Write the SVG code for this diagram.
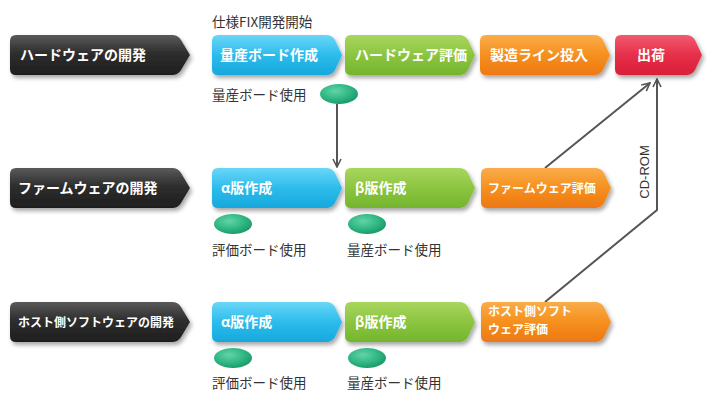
<svg xmlns="http://www.w3.org/2000/svg" xmlns:xlink="http://www.w3.org/1999/xlink" width="707" height="414" viewBox="0 0 707 414">
<style>
.nt{font-family:"Noto Sans CJK JP","Noto Sans",sans-serif;font-weight:bold;fill:#fff;font-size:14px}
.sm{font-size:12px}
.lb{font-family:"Noto Sans CJK JP","Noto Sans",sans-serif;fill:#333;font-size:13.5px}
.cn{fill:none;stroke:#555;stroke-width:2}
</style>
<defs>
<linearGradient id="gDark" x1="0" y1="0" x2="0" y2="1"><stop offset="0" stop-color="#5a5a5a"/><stop offset="0.45" stop-color="#2e2e2e"/><stop offset="1" stop-color="#1e1e1e"/></linearGradient>
<linearGradient id="gBlue" x1="0" y1="0" x2="0" y2="1"><stop offset="0" stop-color="#6ad6f7"/><stop offset="0.5" stop-color="#2cbcec"/><stop offset="1" stop-color="#17a8dc"/></linearGradient>
<linearGradient id="gGreen" x1="0" y1="0" x2="0" y2="1"><stop offset="0" stop-color="#a8d65e"/><stop offset="0.5" stop-color="#8cc540"/><stop offset="1" stop-color="#74b52e"/></linearGradient>
<linearGradient id="gOrange" x1="0" y1="0" x2="0" y2="1"><stop offset="0" stop-color="#fbac4a"/><stop offset="0.5" stop-color="#f5901f"/><stop offset="1" stop-color="#ee7812"/></linearGradient>
<linearGradient id="gRed" x1="0" y1="0" x2="0" y2="1"><stop offset="0" stop-color="#f25a70"/><stop offset="0.5" stop-color="#e6304a"/><stop offset="1" stop-color="#d81f38"/></linearGradient>
<radialGradient id="gEll" cx="0.4" cy="0.35" r="0.7"><stop offset="0" stop-color="#62d4a8"/><stop offset="0.6" stop-color="#2db580"/><stop offset="1" stop-color="#1a9468"/></radialGradient>
<filter id="sh" x="-10%" y="-20%" width="130%" height="160%"><feDropShadow dx="2" dy="3" stdDeviation="2" flood-color="#000" flood-opacity="0.35"/></filter>
<path id="s180" d="M6,0 H162 Q168,0 171,5 L180,20 L171,35 Q168,40 162,40 H6 Q0,40 0,34 V6 Q0,0 6,0 Z"/>
<path id="s130" d="M6,0 H114 Q120,0 123,5 L130,20 L123,35 Q120,40 114,40 H6 Q0,40 0,34 V6 Q0,0 6,0 Z"/>
<path id="s87" d="M6,0 H71 Q77,0 80,5 L87,20 L80,35 Q77,40 71,40 H6 Q0,40 0,34 V6 Q0,0 6,0 Z"/>
<ellipse id="ell" cx="0" cy="0" rx="19" ry="10"/>
<marker id="ah" viewBox="0 0 10 10" refX="9" refY="5" markerWidth="5" markerHeight="5" orient="auto" markerUnits="strokeWidth"><path d="M1,1 L9,5 L1,9" fill="none" stroke="#555" stroke-width="1.6"/></marker>
</defs>
<rect width="707" height="414" fill="#fff"/>

<g id="connectors">
<path class="cn" d="M337,104 V167" marker-end="url(#ah)"/>
<path class="cn" d="M545,168 L650,83" marker-end="url(#ah)"/>
<path class="cn" d="M545,302 L657,210 V79" marker-end="url(#ah)"/>
<text x="649" y="172" transform="rotate(-90 649 172)" text-anchor="middle" font-family="Liberation Sans, Arial, sans-serif" font-size="13" fill="#333">CD-ROM</text>
</g>

<g id="label-fix"><text class="lb" x="212" y="27">仕様FIX開発開始</text></g>

<g id="hw-dev"><use href="#s180" x="10" y="35" fill="url(#gDark)" filter="url(#sh)"/><text class="nt" x="20" y="60">ハードウェアの開発</text></g>
<g id="hw-board"><use href="#s130" x="212" y="35" fill="url(#gBlue)" filter="url(#sh)"/><text class="nt" x="220" y="60">量産ボード作成</text></g>
<g id="hw-eval"><use href="#s130" x="345" y="35" fill="url(#gGreen)" filter="url(#sh)"/><text class="nt" x="355" y="60">ハードウェア評価</text></g>
<g id="hw-line"><use href="#s130" x="480" y="35" fill="url(#gOrange)" filter="url(#sh)"/><text class="nt" x="490" y="60">製造ライン投入</text></g>
<g id="ship"><use href="#s87" x="615" y="35" fill="url(#gRed)" filter="url(#sh)"/><text class="nt" x="637" y="60">出荷</text></g>
<g id="hw-use"><use href="#ell" x="339" y="94" fill="url(#gEll)"/><text class="lb" x="212" y="100">量産ボード使用</text></g>

<g id="fw-dev"><use href="#s180" x="10" y="168" fill="url(#gDark)" filter="url(#sh)"/><text class="nt" x="18" y="193">ファームウェアの開発</text></g>
<g id="fw-alpha"><use href="#s130" x="212" y="168" fill="url(#gBlue)" filter="url(#sh)"/><text class="nt" x="221" y="193">α版作成</text></g>
<g id="fw-beta"><use href="#s130" x="345" y="168" fill="url(#gGreen)" filter="url(#sh)"/><text class="nt" x="355" y="193">β版作成</text></g>
<g id="fw-eval"><use href="#s130" x="481" y="168" fill="url(#gOrange)" filter="url(#sh)"/><text class="nt sm" x="488" y="193">ファームウェア評価</text></g>
<g id="fw-use1"><use href="#ell" x="233" y="224" fill="url(#gEll)"/><text class="lb" x="212" y="255">評価ボード使用</text></g>
<g id="fw-use2"><use href="#ell" x="367" y="224" fill="url(#gEll)"/><text class="lb" x="347" y="255">量産ボード使用</text></g>

<g id="sw-dev"><use href="#s180" x="10" y="302" fill="url(#gDark)" filter="url(#sh)"/><text class="nt sm" x="18" y="327">ホスト側ソフトウェアの開発</text></g>
<g id="sw-alpha"><use href="#s130" x="212" y="302" fill="url(#gBlue)" filter="url(#sh)"/><text class="nt" x="221" y="327">α版作成</text></g>
<g id="sw-beta"><use href="#s130" x="345" y="302" fill="url(#gGreen)" filter="url(#sh)"/><text class="nt" x="355" y="327">β版作成</text></g>
<g id="sw-eval"><use href="#s130" x="481" y="302" fill="url(#gOrange)" filter="url(#sh)"/><text class="nt sm" x="488" y="316">ホスト側ソフト</text><text class="nt sm" x="488" y="334">ウェア評価</text></g>
<g id="sw-use1"><use href="#ell" x="233" y="358" fill="url(#gEll)"/><text class="lb" x="212" y="388">評価ボード使用</text></g>
<g id="sw-use2"><use href="#ell" x="367" y="358" fill="url(#gEll)"/><text class="lb" x="347" y="388">量産ボード使用</text></g>
</svg>
